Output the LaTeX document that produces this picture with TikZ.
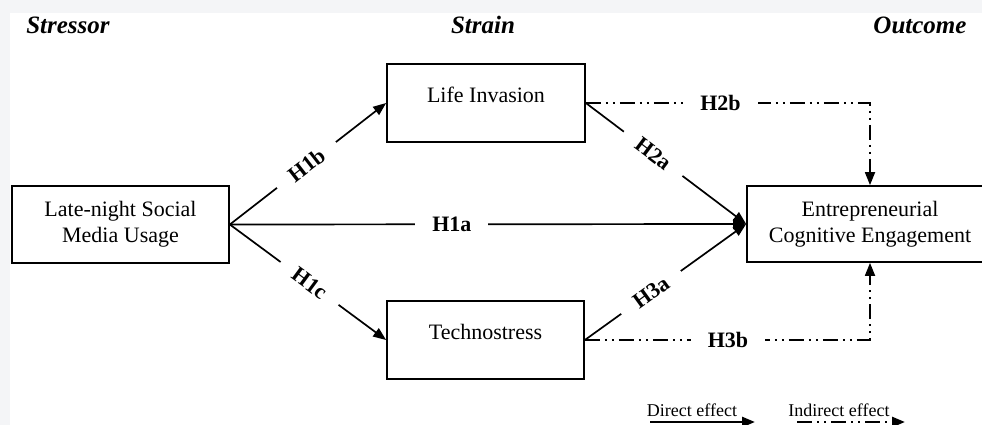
\documentclass[tikz,border=0pt]{standalone}
\usepackage{fontspec}
\setmainfont{Liberation Serif}
\usetikzlibrary{arrows.meta}
\definecolor{PageGray}{HTML}{F4F5F7}
\tikzset{
  varbox/.style={draw,line width=1.7pt,fill=white,align=center,
    font=\fontsize{22}{26}\selectfont},
  direct/.style={line width=1.7pt,-{Triangle[length=13pt,width=10pt]}},
  indirect/.style={line width=1.7pt,
    dash pattern=on 15pt off 5pt on 2pt off 5pt on 2pt off 5pt,
    -{Triangle[length=13pt,width=10pt]}},
  hyp/.style={fill=white,inner xsep=17pt,inner ysep=1pt,
    font=\fontsize{22}{24}\selectfont\bfseries},
  head/.style={font=\fontsize{25}{27}\selectfont\bfseries\itshape}
}

\begin{document}
\begin{tikzpicture}[x=1pt,y=-1pt]
  \useasboundingbox (0,0) rectangle (982,425);
  \fill[PageGray] (0,0) rectangle (982,425);
  \fill[white] (10,13) rectangle (982,425);

  % column headings
  \node[head] (stressor) at (68,25) {Stressor};
  \node[head] (strain) at (483,25) {Strain};
  \node[head] (outcome) at (920,25) {Outcome};

  % variables
  \node[varbox,minimum width=217pt,minimum height=77pt] (lsm) at (120.5,224.5)
    {Late-night Social\\Media Usage};
  \node[varbox,minimum width=198pt,minimum height=78pt,text height=15pt,text depth=16pt]
    (li) at (486,103) {Life Invasion};
  \node[varbox,minimum width=197pt,minimum height=78pt,text height=15pt,text depth=16pt]
    (ts) at (485.5,340) {Technostress};
  \node[varbox,minimum width=246pt,minimum height=76pt] (ce) at (870,224)
    {Entrepreneurial\\Cognitive Engagement};

  % hypotheses
  \draw[direct] (lsm.east) -- node[hyp,sloped,pos=0.49] {H1b} (li.west);
  \draw[direct] (lsm.east) -- node[hyp,pos=0.43] {H1a} (ce.west);
  \draw[direct] (lsm.east) -- node[hyp,sloped,pos=0.51] {H1c} (ts.west);
  \draw[direct] (li.east) -- node[hyp,sloped,pos=0.42] {H2a} (ce.west);
  \draw[direct] (ts.east) -- node[hyp,sloped,pos=0.41] {H3a} (ce.west);
  \draw[indirect] (li.east) -| node[hyp,pos=0.237] {H2b} (ce.north);
  \draw[indirect] (ts.east) -| node[hyp,pos=0.251] {H3b} (ce.south);

  % legend
  \node[font=\fontsize{18}{20}\selectfont] (de) at (692,410) {Direct effect};
  \node[font=\fontsize{18}{20}\selectfont] (ie) at (839,410) {Indirect effect};
  \coordinate (de1) at (650,422);
  \coordinate (de2) at (755,422);
  \coordinate (ie1) at (797,422);
  \coordinate (ie2) at (905,422);
  \draw[direct,line width=2.6pt] (de1) -- (de2);
  \draw[indirect,line width=2.6pt] (ie1) -- (ie2);
\end{tikzpicture}
\end{document}
